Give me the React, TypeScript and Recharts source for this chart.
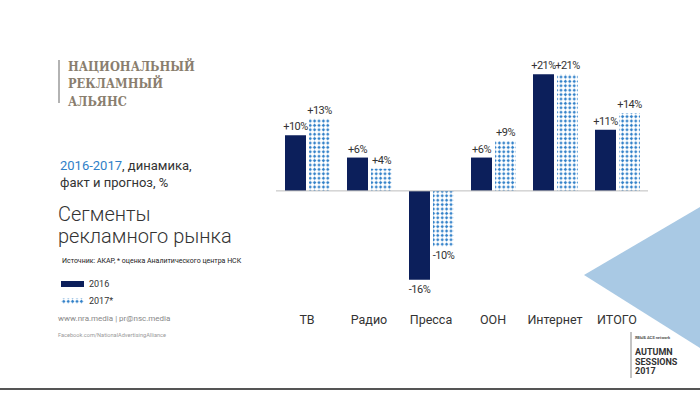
import { Bar, BarChart, LabelList, ReferenceLine, XAxis, YAxis } from "recharts";

// growth by advertising segment, %
const segments = ["ТВ", "Радио", "Пресса", "ООН", "Интернет", "ИТОГО"];
const fact2016 = [10, 6, -16, 6, 21, 11];
const forecast2017 = [13, 4, -10, 9, 21, 14];

const NAVY = "#0c1f5b";
const BLUE = "#2f7fc8";
const SANS = "Roboto, 'Open Sans', sans-serif";

const data = segments.map((name, i) => ({
  name,
  y2016: fact2016[i],
  y2017: forecast2017[i],
}));

const fmt = (v: any) => (Number(v) > 0 ? "+" : "") + v + "%";

function Decor() {
  return (
    <svg width={700} height={393} style={{ position: "absolute", left: 0, top: 0 }} fontFamily={SANS}>
      <polygon points="584,275 700,207 700,348" fill="#a9c9e4" />

      <line x1={59} y1={60} x2={59} y2={103} stroke="#9a9a9a" strokeWidth={1.5} />
      <g
        fontFamily="'DejaVu Serif Condensed', 'DejaVu Serif', serif"
        fontStretch="condensed"
        fontWeight={700}
        fontSize={12.7}
        fill="#8a7e6e"
      >
        <text x={68} y={66} dominantBaseline="central">НАЦИОНАЛЬНЫЙ</text>
        <text x={68} y={83.5} dominantBaseline="central">РЕКЛАМНЫЙ</text>
        <text x={68} y={101} dominantBaseline="central">АЛЬЯНС</text>
      </g>

      <text x={60} y={165} dominantBaseline="central" fontSize={13} fill="#333">
        <tspan fill={BLUE}>2016-2017</tspan>, динамика,
      </text>
      <text x={60} y={182} dominantBaseline="central" fontSize={13} fill="#333">факт и прогноз, %</text>

      <text x={58} y={214} dominantBaseline="central" fontSize={20} fontWeight={300} fill="#333">Сегменты</text>
      <text x={58} y={236} dominantBaseline="central" fontSize={20} fontWeight={300} fill="#333">рекламного рынка</text>

      <text x={62} y={261} dominantBaseline="central" fontSize={7} fill="#222">
        Источник: АКАР, * оценка Аналитического центра НСК
      </text>

      <rect x={61} y={281} width={23} height={6} fill={NAVY} />
      <text x={89} y={284} dominantBaseline="central" fontSize={9} fill="#333">2016</text>
      <rect x={61} y={298} width={23} height={6} fill="url(#dots2017)" />
      <text x={89} y={301} dominantBaseline="central" fontSize={9} fill="#333">2017*</text>

      <text x={58} y={318} dominantBaseline="central" fontSize={8} fill="#888">
        www.nra.media  |  pr@nsc.media
      </text>
      <text x={58} y={335} dominantBaseline="central" fontSize={5.6} fill="#999">
        Facebook.com/NationalAdvertisingAlliance
      </text>

      <line x1={631} y1={332} x2={631} y2={378} stroke="#888" strokeWidth={1} />
      <text x={635} y={337} dominantBaseline="central" fontSize={4} fontWeight={700} fill="#555">
        ЯВЫБ ACS network
      </text>
      <g fontSize={9} fontWeight={700} fill="#333">
        <text x={635} y={352} dominantBaseline="central">AUTUMN</text>
        <text x={635} y={362} dominantBaseline="central">SESSIONS</text>
        <text x={635} y={371} dominantBaseline="central">2017</text>
      </g>

      <line x1={0} y1={389} x2={700} y2={389} stroke="#555" strokeWidth={2} />
    </svg>
  );
}

export default function App() {
  return (
    <div style={{ position: "relative", width: 700, height: 393, overflow: "hidden", background: "#fff" }}>
      <style>{"body{margin:0}"}</style>
      <svg width={0} height={0} style={{ position: "absolute" }}>
        <defs>
          <pattern id="dots2017" width={4.4} height={4.4} patternUnits="userSpaceOnUse">
            <rect width={4.4} height={4.4} fill="#fff" />
            <polygon points="2.2,0.5 3.9,2.2 2.2,3.9 0.5,2.2" fill={BLUE} />
          </pattern>
        </defs>
      </svg>
      <Decor />
      <div style={{ position: "absolute", left: 0, top: 0 }}>
        <BarChart
          width={700}
          height={393}
          data={data}
          margin={{ top: 52, right: 52, bottom: 61, left: 276 }}
          barSize={21}
          barGap={3}
        >
          <XAxis
            dataKey="name"
            axisLine={false}
            tickLine={false}
            tickMargin={7}
            height={30}
            interval={0}
            tick={{ fontSize: 12.5, fill: "#333", fontFamily: SANS }}
          />
          <YAxis hide domain={[-20, 25]} />
          <ReferenceLine y={0} stroke="#bdbdbd" strokeWidth={1} />
          <Bar dataKey="y2016" fill={NAVY} isAnimationActive={false}>
            <LabelList
              dataKey="y2016"
              position="top"
              formatter={fmt}
              fill="#333"
              fontSize={11}
              letterSpacing={-0.5}
              fontFamily={SANS}
            />
          </Bar>
          <Bar dataKey="y2017" fill="url(#dots2017)" isAnimationActive={false}>
            <LabelList
              dataKey="y2017"
              position="top"
              formatter={fmt}
              fill="#333"
              fontSize={11}
              letterSpacing={-0.5}
              fontFamily={SANS}
            />
          </Bar>
        </BarChart>
      </div>
    </div>
  );
}
